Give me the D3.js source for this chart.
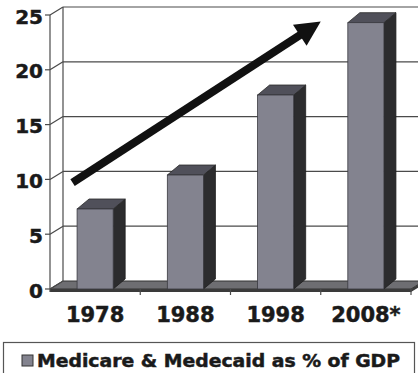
<!DOCTYPE html>
<html>
<head>
<meta charset="utf-8">
<script src="https://cdn.jsdelivr.net/npm/d3@7/dist/d3.min.js"></script>
<style>
  html, body { margin: 0; padding: 0; background: #fff; }
  svg { display: block; }
  text { font-family: "DejaVu Sans", Verdana, sans-serif; font-weight: bold; fill: #1a1a1a;
         stroke: #1a1a1a; stroke-width: 0.5px; }
</style>
</head>
<body>
<svg id="chart" width="418" height="373"></svg>
<script>
// Medicare & Medicaid spending as a share of GDP
const years = ["1978", "1988", "1998", "2008*"];
const shares = [7.3, 10.4, 17.7, 24.3];
const yTicks = [0, 5, 10, 15, 20, 25];
const seriesName = "Medicare & Medecaid as % of GDP";
// trend arrow endpoints: [category position (0..4), value]
const trendFrom = [0.25, 9.7];
const trendTo = [3.0, 24.4];

const svg = d3.select("#chart");

const left = 50, right = 411, floorY = 289, topY = 15;
const wallDx = 13, wallDy = -8;   // depth offset of the back wall
const barDx = 12, barDy = -10;    // depth offset of each bar

const x = d3.scaleBand().domain(years).range([left, right])
  .paddingInner(0.6).paddingOuter(0.3);
const xPos = d3.scaleLinear().domain([0, years.length]).range([left, right]);
const y = d3.scaleLinear().domain([0, 25]).range([floorY, topY]);

const frontColor = "#83838f";
const sideColor = "#2c2c2e";
const topColor = "#50505a";
const gridColor = "#4a4a4a";

// floor slab
const floor = svg.append("g");
floor.append("path")
  .attr("d", `M${left},${floorY} L${right},${floorY} L${right + wallDx},${floorY + wallDy} L${left + wallDx},${floorY + wallDy} Z`)
  .attr("fill", "#6e6e72").attr("stroke", "#333").attr("stroke-width", 1);
floor.append("path")
  .attr("d", `M${left},${floorY} L${right},${floorY} L${right + wallDx},${floorY + wallDy} L${right + wallDx},${floorY + wallDy + 3} L${right},${floorY + 3} L${left},${floorY + 3} Z`)
  .attr("fill", "#3a3a3a");

// back wall gridlines and side wall diagonals
const grid = svg.append("g").attr("stroke", gridColor).attr("stroke-width", 1.2).attr("fill", "none");
yTicks.forEach(v => {
  const yy = y(v);
  if (v > 0) {
    grid.append("line").attr("x1", left + wallDx).attr("x2", 430)
      .attr("y1", yy + wallDy).attr("y2", yy + wallDy);
  }
  grid.append("line").attr("x1", left).attr("x2", left + wallDx)
    .attr("y1", yy).attr("y2", yy + wallDy);
  grid.append("line").attr("x1", left - 5).attr("x2", left)
    .attr("y1", yy).attr("y2", yy);
});
grid.append("line").attr("x1", left + wallDx).attr("x2", left + wallDx)
  .attr("y1", y(25) + wallDy).attr("y2", floorY + wallDy);
grid.append("line").attr("x1", left).attr("x2", left)
  .attr("y1", y(25)).attr("y2", floorY + 3);

// category ticks under the floor
d3.range(1, years.length + 1).forEach(i => {
  grid.append("line").attr("x1", xPos(i)).attr("x2", xPos(i))
    .attr("y1", floorY).attr("y2", floorY + 6);
});

// y-axis labels
svg.append("g").selectAll("text").data(yTicks).join("text")
  .attr("x", 43).attr("y", d => y(d) + 3)
  .attr("text-anchor", "end").attr("dominant-baseline", "middle")
  .attr("font-size", 20).text(d => d);

// 3D bars
const bars = svg.append("g").selectAll("g").data(years.map((k, i) => ({ k, v: shares[i] }))).join("g");
bars.each(function(d) {
  const g = d3.select(this);
  const x0 = x(d.k), x1 = x(d.k) + x.bandwidth();
  const yt = y(d.v), yb = floorY;
  g.append("path")
    .attr("d", `M${x1},${yb} L${x1 + barDx},${yb + barDy} L${x1 + barDx},${yt + barDy} L${x1},${yt} Z`)
    .attr("fill", sideColor).attr("stroke", "#1e1e1e").attr("stroke-width", 0.8);
  g.append("path")
    .attr("d", `M${x0},${yt} L${x0 + barDx},${yt + barDy} L${x1 + barDx},${yt + barDy} L${x1},${yt} Z`)
    .attr("fill", topColor).attr("stroke", "#2a2a2a").attr("stroke-width", 0.8);
  g.append("rect")
    .attr("x", x0).attr("y", yt).attr("width", x.bandwidth()).attr("height", yb - yt)
    .attr("fill", frontColor).attr("stroke", "#3a3a40").attr("stroke-width", 0.8);
});

// category labels
svg.append("g").selectAll("text").data(years).join("text")
  .attr("x", d => x(d) + x.bandwidth() / 2).attr("y", 322)
  .attr("text-anchor", "middle").attr("font-size", 21).text(d => d);

// trend arrow
const ax0 = xPos(trendFrom[0]), ay0 = y(trendFrom[1]);
const ax1 = xPos(trendTo[0]), ay1 = y(trendTo[1]);
const len = Math.hypot(ax1 - ax0, ay1 - ay0);
const ux = (ax1 - ax0) / len, uy = (ay1 - ay0) / len;
const nx = -uy, ny = ux;
const headL = 25, headW = 12.5;
const bx = ax1 - headL * ux, by = ay1 - headL * uy;
svg.append("line")
  .attr("x1", ax0).attr("y1", ay0).attr("x2", bx + 2 * ux).attr("y2", by + 2 * uy)
  .attr("stroke", "#111").attr("stroke-width", 8);
svg.append("path")
  .attr("d", `M${ax1},${ay1} L${bx + headW * nx},${by + headW * ny} L${bx - headW * nx},${by - headW * ny} Z`)
  .attr("fill", "#111");

// legend
const legend = svg.append("g");
legend.append("rect").attr("x", 3.5).attr("y", 342.5).attr("width", 411).attr("height", 40)
  .attr("fill", "#fff").attr("stroke", "#555").attr("stroke-width", 1.2);
legend.append("rect").attr("x", 22).attr("y", 355).attr("width", 11).attr("height", 11)
  .attr("fill", frontColor).attr("stroke", "#333").attr("stroke-width", 1);
const lt = legend.append("text").attr("x", 37).attr("y", 366.5)
  .attr("font-size", 17.5).text(seriesName);
const w = lt.node().getComputedTextLength();
if (Math.abs(w - 363) > 4) lt.attr("textLength", 363).attr("lengthAdjust", "spacingAndGlyphs");
</script>
</body>
</html>
